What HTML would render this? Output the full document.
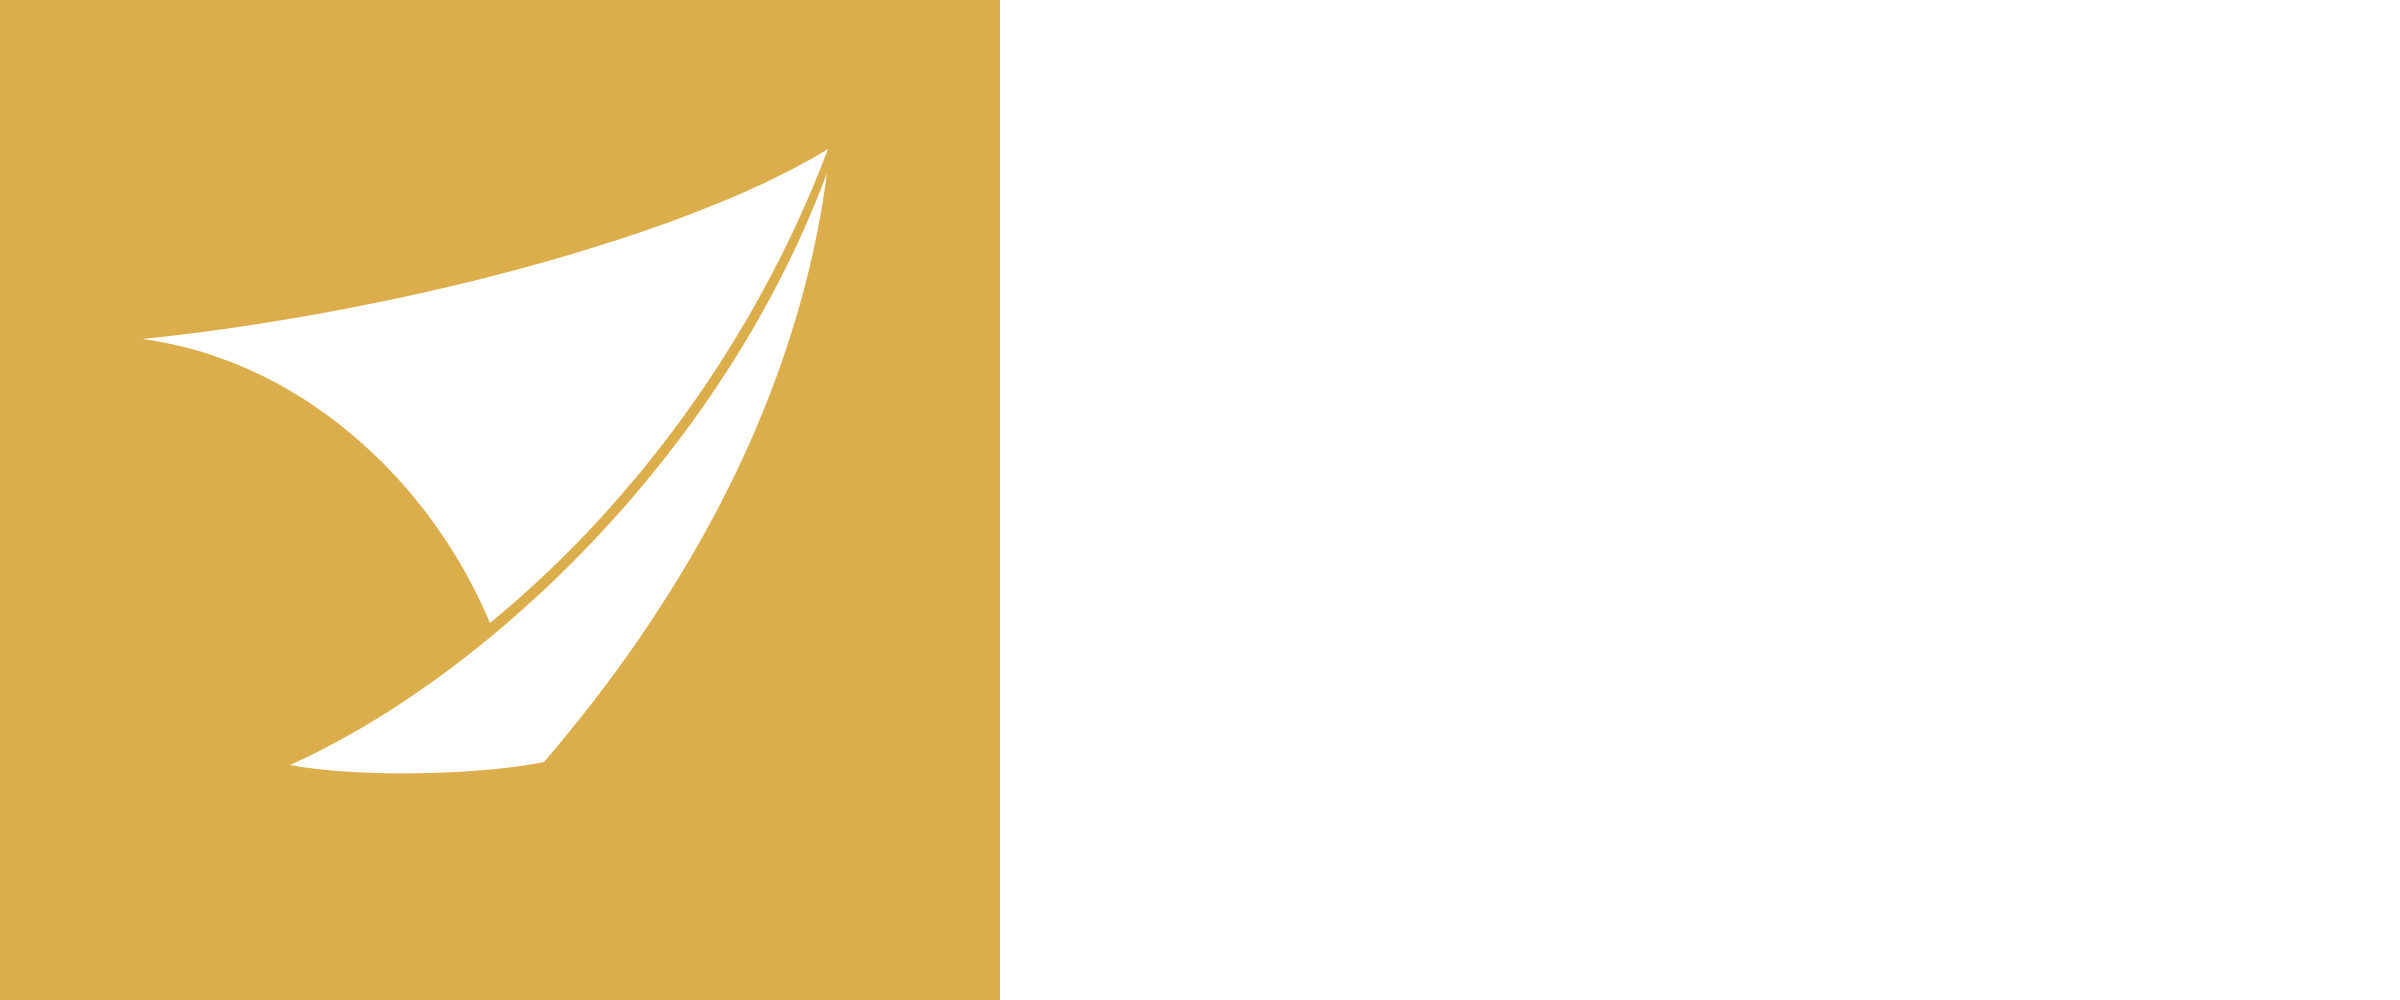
<!DOCTYPE html>
<html><head><meta charset="utf-8"><style>
html,body{margin:0;padding:0;background:#fff;width:2400px;height:1000px;overflow:hidden}
</style></head><body>
<svg width="2400" height="1000" viewBox="0 0 2400 1000" xmlns="http://www.w3.org/2000/svg">
<rect x="0" y="0" width="1000" height="1000" fill="#DCAD4B"/>
<path fill="#fff" d="M142,339 C380,315 680,240 828,149 C760,330 640,500 490,623 C430,480 300,360 142,339 Z"/>
<path fill="#fff" d="M290,765 C480,680 720,460 827,173 C800,380 700,580 544,762 C480,775 360,778 290,765 Z"/>
</svg>
</body></html>
